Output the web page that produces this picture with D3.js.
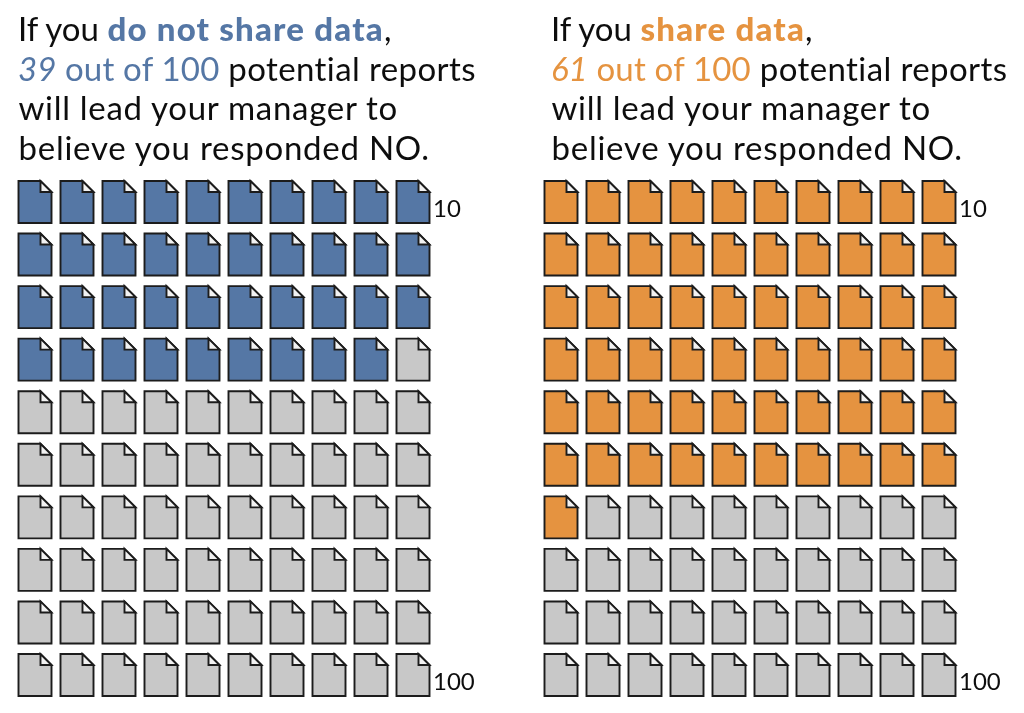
<!DOCTYPE html>
<html>
<head>
<meta charset="utf-8">
<script src="https://cdn.jsdelivr.net/npm/d3@7"></script>
<style>
html,body{margin:0;padding:0;background:#fff}
svg{display:block}
text{font-family:Lato,"Open Sans",sans-serif;fill:#111;font-variant-ligatures:none}
</style>
</head>
<body>
<svg id="chart" width="1024" height="713"></svg>
<script>
const panels = ["do not share data", "share data"];
const highlighted = [39, 61];
const total = 100;
const columns = d3.range(10);
const rows = d3.range(10);
const panelColors = ["#5577a5", "#e5933f"];
const emptyColor = "#c8c8c8";
const rowLabels = [{row: 0, text: "10"}, {row: 9, text: "100"}];
const headlineLine3 = "will lead your manager to";
const headlineLine4 = "believe you responded NO.";
const panelLefts = [18.5, 544.5];
const headLefts = [18, 551];

const svg = d3.select("#chart");
const defs = svg.append("defs");
defs.append("filter").attr("id", "soft").attr("x", "-2%").attr("y", "-2%").attr("width", "104%").attr("height", "104%")
  .append("feGaussianBlur").attr("stdDeviation", 0.5);

const x = d3.scalePoint().domain(columns).range([0, 378]);
const y = d3.scalePoint().domain(rows).range([181, 654]);
const W = 33, H = 42, F = 11;
const iconPath = `M0,0H${W - F}L${W},${F}V${H}H0Z`;
const foldPath = `M${W - F},0V${F}H${W}Z`;

panels.forEach((name, p) => {
  const g = svg.append("g").attr("filter", "url(#soft)");
  const lh = headLefts[p];
  const fs = 33;
  const lineY = [41, 81, 120, 160];
  const t1 = g.append("text").attr("x", lh).attr("y", lineY[0]).attr("font-size", fs);
  t1.append("tspan").text("If you ");
  t1.append("tspan").text(name).attr("font-weight", 900).style("fill", panelColors[p]).style("letter-spacing", "1.2px");
  t1.append("tspan").text(",");
  const t2 = g.append("text").attr("x", lh).attr("y", lineY[1]).attr("font-size", fs);
  t2.append("tspan").text(highlighted[p]).attr("font-style", "italic").style("fill", panelColors[p]);
  t2.append("tspan").text(` out of ${total}`).style("fill", panelColors[p]).style("letter-spacing", "0.2px");
  t2.append("tspan").text(" potential reports").style("letter-spacing", "0.4px");
  g.append("text").attr("x", lh + 0.5).attr("y", lineY[2]).attr("font-size", fs).style("letter-spacing", "0.7px").text(headlineLine3);
  g.append("text").attr("x", lh + 0.5).attr("y", lineY[3]).attr("font-size", fs).style("letter-spacing", "0.75px").text(headlineLine4);

  const cells = d3.cross(rows, columns).map(([r, c], i) => ({r, c, on: i < highlighted[p]}));
  const icon = g.selectAll("g.icon").data(cells).join("g")
    .attr("class", "icon")
    .attr("transform", d => `translate(${panelLefts[p] + x(d.c)},${y(d.r)})`);
  icon.append("path").attr("d", iconPath)
    .attr("fill", d => d.on ? panelColors[p] : emptyColor)
    .attr("stroke", "#1c1c1c").attr("stroke-width", 1.9).attr("stroke-linejoin", "miter");
  icon.append("path").attr("d", foldPath)
    .attr("fill", "#f2f2f2")
    .attr("stroke", "#1c1c1c").attr("stroke-width", 1.9);

  g.selectAll("text.end").data(rowLabels).join("text")
    .attr("class", "end")
    .attr("x", panelLefts[p] + x(9) + W + 3.5)
    .attr("y", d => y(d.row) + 36)
    .attr("font-size", 24)
    .text(d => d.text);
});
</script>
</body>
</html>
